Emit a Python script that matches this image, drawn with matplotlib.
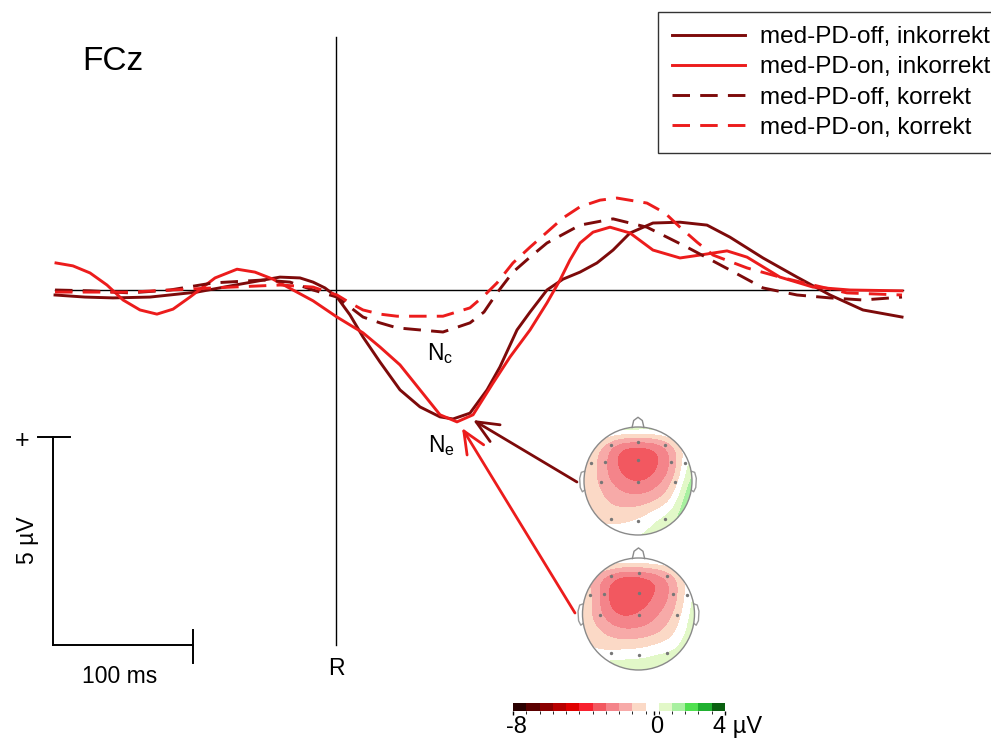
import numpy as np
import matplotlib
matplotlib.use("Agg")
import matplotlib.pyplot as plt
from matplotlib.colors import ListedColormap, BoundaryNorm
from matplotlib.cm import ScalarMappable
from matplotlib.patches import Circle

plt.rcParams['font.family'] = ['Liberation Sans', 'DejaVu Sans']
plt.rcParams['mathtext.fontset'] = 'custom'
plt.rcParams['mathtext.rm'] = 'Liberation Sans'
plt.rcParams['mathtext.it'] = 'Liberation Sans:italic'

# ---------------- data (ms, µV) ----------------
t_off_inc = [-200.7, -179.3, -159.3, -132.9, -99.3, -68.6, -40.0, -25.7, -16.4, -7.9, 0.7, 10.0, 19.3,
             31.4, 45.7, 60.0, 74.3, 83.6, 95.7, 107.9, 117.1, 129.3, 138.6, 150.7, 162.1, 174.3,
             186.4, 197.9, 210.0, 226.4, 245.7, 265.0, 281.4, 305.0, 329.3, 352.9, 376.4, 404.3]
v_off_inc = [-0.12, -0.17, -0.19, -0.17, -0.05, 0.14, 0.31, 0.29, 0.19, 0.05, -0.17, -0.60, -1.13,
             -1.73, -2.40, -2.81, -3.05, -3.10, -2.96, -2.40, -1.85, -0.96, -0.53, 0.00, 0.26, 0.43,
             0.65, 0.96, 1.37, 1.61, 1.63, 1.56, 1.27, 0.77, 0.31, -0.12, -0.48, -0.65]

t_on_inc = [-200.0, -187.9, -175.7, -163.6, -152.1, -140.0, -127.9, -116.4, -104.3, -86.4, -70.7,
            -57.9, -45.0, -30.7, -16.4, 0.7, 19.3, 31.4, 45.7, 60.0, 74.3, 86.4, 97.9, 112.1, 124.3,
            138.6, 150.7, 160.0, 167.1, 174.3, 183.6, 195.7, 210.0, 226.4, 245.7, 260.0, 279.3, 293.6,
            317.1, 340.7, 367.1, 404.3]
v_on_inc = [0.65, 0.58, 0.41, 0.12, -0.24, -0.48, -0.58, -0.46, -0.17, 0.29, 0.50,
            0.43, 0.26, 0.00, -0.26, -0.65, -1.03, -1.37, -1.80, -2.40, -3.00, -3.17, -3.00, -2.24, -1.61,
            -0.96, -0.31, 0.24, 0.72, 1.13, 1.39, 1.51, 1.37, 0.96, 0.77, 0.84, 0.94, 0.79,
            0.31, 0.07, 0.00, -0.02]

t_off_cor = [-200.7, -175.7, -147.1, -118.6, -87.9, -52.1, -32.9, -16.4, 0.7, 19.3, 31.4, 43.6,
             76.4, 95.7, 105.7, 115.0, 126.4, 138.6, 150.7, 174.3, 197.9, 222.1, 250.7, 281.4,
             305.0, 329.3, 352.9, 376.4, 404.3]
v_off_cor = [0.00, -0.02, -0.07, 0.00, 0.17, 0.24, 0.19, 0.00, -0.17, -0.65, -0.79, -0.91,
             -1.01, -0.79, -0.53, -0.07, 0.43, 0.79, 1.13, 1.56, 1.71, 1.51, 1.03, 0.48,
             0.05, -0.12, -0.19, -0.24, -0.17]

t_on_cor = [-200.7, -147.1, -87.9, -40.0, -16.4, 0.7, 10.0, 19.3, 31.4, 43.6, 76.4, 95.7, 105.7,
            115.0, 126.4, 138.6, 150.7, 162.1, 174.3, 188.6, 200.7, 222.1, 235.0, 245.7, 257.9,
            269.3, 293.6, 317.1, 340.7, 365.0, 404.3]
v_on_cor = [-0.05, -0.05, 0.05, 0.12, 0.07, -0.12, -0.31, -0.48, -0.58, -0.63, -0.63, -0.43, -0.14,
            0.17, 0.65, 1.03, 1.39, 1.73, 2.00, 2.16, 2.21, 2.09, 1.85, 1.51, 1.15,
            0.84, 0.53, 0.31, 0.12, -0.07, -0.12]

labels = ['med-PD-off, inkorrekt', 'med-PD-on, inkorrekt', 'med-PD-off, korrekt', 'med-PD-on, korrekt']

# topography values (µV) on a 7x7 grid (rows: front -> back, cols: left -> right)
topo_off = [[1.0, 0.7, 0.6, 0.6, 0.6, 0.8, 1.2],
            [-0.2, -1.0, -2.1, -2.4, -2.1, -1.0, 0.4],
            [-0.6, -1.6, -2.85, -3.3, -2.85, -1.5, 0.6],
            [-0.6, -1.5, -2.4, -2.75, -2.3, -1.0, 1.2],
            [-0.5, -1.1, -1.6, -1.7, -1.3, -0.1, 1.8],
            [-0.4, -0.7, -0.8, -0.6, 0.0, 0.8, 2.0],
            [-0.2, -0.2, -0.1, 0.2, 0.6, 1.2, 2.0]]
topo_on = [[0.6, 0.4, 0.3, 0.3, 0.4, 0.6, 0.9],
           [-0.8, -1.6, -2.5, -2.6, -2.1, -1.0, 0.4],
           [-0.6, -2.1, -3.3, -3.2, -2.6, -1.4, 0.4],
           [-0.7, -1.9, -2.8, -2.7, -2.1, -1.0, 0.6],
           [-0.6, -1.2, -1.7, -1.7, -1.3, -0.4, 0.8],
           [-0.2, -0.4, -0.4, -0.3, 0.0, 0.4, 1.1],
           [0.6, 0.7, 0.8, 0.8, 0.9, 1.1, 1.3]]
elec_x = [-0.5, 0.0, 0.5, -0.87, -0.62, 0.0, 0.62, 0.87, -0.68, 0.0, 0.68, -0.5, 0.0, 0.5]
elec_y = [0.67, 0.73, 0.67, 0.34, 0.35, 0.38, 0.35, 0.34, -0.02, -0.02, -0.02, -0.70, -0.74, -0.70]

cbar_levels = np.arange(-8, 4.01, 0.75)
cbar_colors = ['#2a0000', '#5a0000', '#8a0000', '#b80000', '#e00000', '#f8202e', '#f25860',
               '#f4848a', '#f7aaa8', '#fbd9c6', '#ffffff', '#e2f8c8', '#a8f0a0', '#50e050',
               '#20b030', '#0a6010']

# ---------------- figure ----------------
W, H = 991, 738
fig = plt.figure(figsize=(W / 100, H / 100), dpi=100)
ax = fig.add_axes([0, 0, 1, 1])
ax.set_xlim(-240, 467.86)
ax.set_ylim(-10.769, 6.971)
ax.axis('off')

dark = '#7d0a0a'
bright = '#ec1c1c'
lw = 2.1
dash = (6.0, 3.5)

ax.plot([-200.7, 405], [0, 0], color='black', lw=1.0, zorder=1)
ax.plot([0, 0], [6.08, -8.53], color='black', lw=1.0, zorder=1)

h1, = ax.plot(t_off_inc, v_off_inc, color=dark, lw=lw, solid_joinstyle='round', label=labels[0], zorder=3)
h2, = ax.plot(t_on_inc, v_on_inc, color=bright, lw=lw, solid_joinstyle='round', label=labels[1], zorder=3)
h3, = ax.plot(t_off_cor, v_off_cor, color=dark, lw=lw, dashes=dash, dash_joinstyle='round',
              label=labels[2], zorder=3)
h4, = ax.plot(t_on_cor, v_on_cor, color=bright, lw=lw, dashes=dash, dash_joinstyle='round',
              label=labels[3], zorder=3)

leg = ax.legend(handles=[h1, h2, h3, h4], loc='upper left',
                bbox_to_anchor=(658 / W, 1 - 12 / H), bbox_transform=fig.transFigure,
                borderaxespad=0, fontsize=17.5, handlelength=3.0, handletextpad=0.62,
                borderpad=0.58, labelspacing=0.34, fancybox=False, framealpha=1,
                edgecolor='#333333')
leg.get_frame().set_linewidth(1.0)

# scale bar (100 ms, 5 µV)
sb_x0, sb_y0 = -202.1, -8.53
ax.plot([sb_x0, sb_x0], [sb_y0, sb_y0 + 5], color='black', lw=1.4)
ax.plot([sb_x0, sb_x0 + 100], [sb_y0, sb_y0], color='black', lw=1.4)
ax.plot([sb_x0 - 10.7, sb_x0 + 12.1], [sb_y0 + 5, sb_y0 + 5], color='black', lw=1.4)
ax.plot([sb_x0 + 100, sb_x0 + 100], [sb_y0 + 0.36, sb_y0 - 0.44], color='black', lw=1.4)
ax.text(-224.3, -3.62, '+', fontsize=18, ha='center', va='center')
ax.text(-220.0, -6.01, '5 µV', fontsize=16.5, ha='center', va='center', rotation=90)
ax.text(-154.3, -9.28, '100 ms', fontsize=16.5, ha='center', va='center')
ax.text(0, -9.09, 'R', fontsize=16.5, ha='center', va='center')
ax.text(-181.4, 5.29, 'FCz', fontsize=24, ha='left', va='baseline')
ax.text(65.0, -1.683, r'$\mathrm{N_c}$', fontsize=16.5, ha='left', va='baseline')
ax.text(65.7, -3.894, r'$\mathrm{N_e}$', fontsize=16.5, ha='left', va='baseline')

ax.annotate('', xy=(97.9, -3.125), xytext=(172.1, -4.615),
            arrowprops=dict(arrowstyle='->,head_length=0.8,head_width=0.35', color=dark,
                            lw=2.0, mutation_scale=20, shrinkA=0, shrinkB=0))
ax.annotate('', xy=(90.0, -3.317), xytext=(170.7, -7.764),
            arrowprops=dict(arrowstyle='->,head_length=0.8,head_width=0.35', color=bright,
                            lw=2.0, mutation_scale=20, shrinkA=0, shrinkB=0))

cmap = ListedColormap(cbar_colors)
norm = BoundaryNorm(cbar_levels, cmap.N)


def head(cx, cy, rx, ry, values):
    k = 1.3
    hax = fig.add_axes([(cx - k * rx) / W, 1 - (cy + k * ry) / H, 2 * k * rx / W, 2 * k * ry / H])
    hax.set_xlim(-k, k)
    hax.set_ylim(-k, k)
    hax.axis('off')
    e = 1 + 1 / 6
    im = hax.imshow(np.array(values), cmap=cmap, norm=norm, extent=(-e, e, -e, e),
                    origin='upper', interpolation='spline36', interpolation_stage='data', zorder=1)
    clip = Circle((0, 0), 1.0, transform=hax.transData)
    im.set_clip_path(clip)
    hax.add_patch(Circle((0, 0), 1.0, fill=False, edgecolor='#8a8a8a', lw=1.0, zorder=3))
    hax.plot([-0.11, -0.08, 0.0, 0.08, 0.11], [0.99, 1.12, 1.18, 1.12, 0.99], color='#8a8a8a', lw=1.0)
    for s in (-1, 1):
        hax.plot([s * 0.99, s * 1.05, s * 1.08, s * 1.07, s * 1.03, s * 0.99],
                 [0.18, 0.16, 0.05, -0.12, -0.20, -0.17], color='#9a9a9a', lw=1.0)
    hax.scatter(elec_x, elec_y, s=2, color='#777777', zorder=4)


head(638, 481, 54, 56, topo_off)
head(638.5, 614, 56, 56, topo_on)

cax = fig.add_axes([513 / W, 1 - 711 / H, 212 / W, 8 / H])
cb = fig.colorbar(ScalarMappable(norm=norm, cmap=cmap), cax=cax, orientation='horizontal',
                  ticks=[-8, 0, 4])
cb.outline.set_visible(False)
cax.tick_params(length=3, width=1, labelbottom=False)
ax.text((516 - 336) / 1.4, -10.5, '-8', fontsize=17, ha='center', va='center')
ax.text((657 - 336) / 1.4, -10.5, '0', fontsize=17, ha='center', va='center')
ax.text((713 - 336) / 1.4, -10.5, '4 µV', fontsize=17, ha='left', va='center')

fig.savefig('out.png', dpi=100)
